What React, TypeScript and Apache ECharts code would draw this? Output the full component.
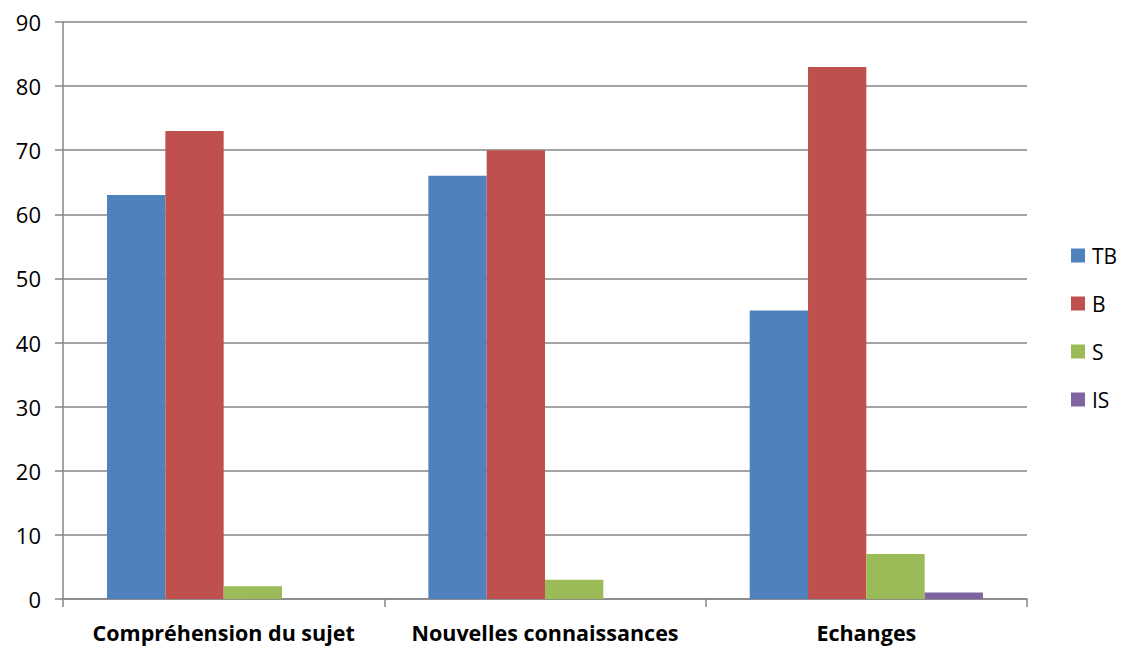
import React, { useEffect, useRef } from "react";
import * as echarts from "echarts";

const categories = ["Compréhension du sujet", "Nouvelles connaissances", "Echanges"];
const seriesNames = ["TB", "B", "S", "IS"];
const tbValues = [63, 66, 45];
const bValues = [73, 70, 83];
const sValues = [2, 3, 7];
const isValues = [0, 0, 1];
const colors = ["#4F81BD", "#C0504D", "#9BBB59", "#8064A2"];

export default function App() {
  const ref = useRef<HTMLDivElement>(null);
  useEffect(() => {
    if (!ref.current) return;
    const chart = echarts.init(ref.current, undefined, { renderer: "svg" });
    const font = "'Open Sans', Lato, sans-serif";
    const data = [tbValues, bValues, sValues, isValues];
    chart.setOption({
      animation: false,
      textStyle: { fontFamily: font },
      grid: { left: 63, right: 100, top: 22, bottom: 49, containLabel: false },
      legend: {
        orient: "vertical",
        left: 1071,
        top: 245,
        padding: 0,
        itemWidth: 14,
        itemHeight: 14,
        itemGap: 27,
        icon: "rect",
        data: seriesNames,
        textStyle: { fontSize: 21, color: "#000", fontFamily: font, padding: [0, 0, 0, 2] },
      },
      xAxis: {
        type: "category",
        data: categories,
        axisLine: { lineStyle: { color: "#868686", width: 1.5 } },
        axisTick: { show: true, interval: 0, length: 8, alignWithLabel: false, lineStyle: { color: "#868686", width: 1.5 } },
        axisLabel: { interval: 0, fontSize: 21.5, fontWeight: "bold", color: "#000", margin: 22, fontFamily: font },
      },
      yAxis: {
        type: "value",
        min: 0,
        max: 90,
        interval: 10,
        axisLine: { show: true, lineStyle: { color: "#868686", width: 1.5 } },
        axisTick: { show: true, length: 8, lineStyle: { color: "#868686", width: 1.5 } },
        splitLine: { lineStyle: { color: "#868686", width: 1.5 } },
        axisLabel: { fontSize: 22, color: "#000", margin: 22, fontFamily: font },
      },
      series: seriesNames.map((name, i) => ({
        name,
        type: "bar",
        data: data[i],
        barGap: "0%",
        barCategoryGap: "27.4%",
        itemStyle: { color: colors[i] },
      })),
    });
    return () => chart.dispose();
  }, []);
  return <div ref={ref} style={{ width: 1127, height: 648, position: "absolute", left: 0, top: 0 }} />;
}
